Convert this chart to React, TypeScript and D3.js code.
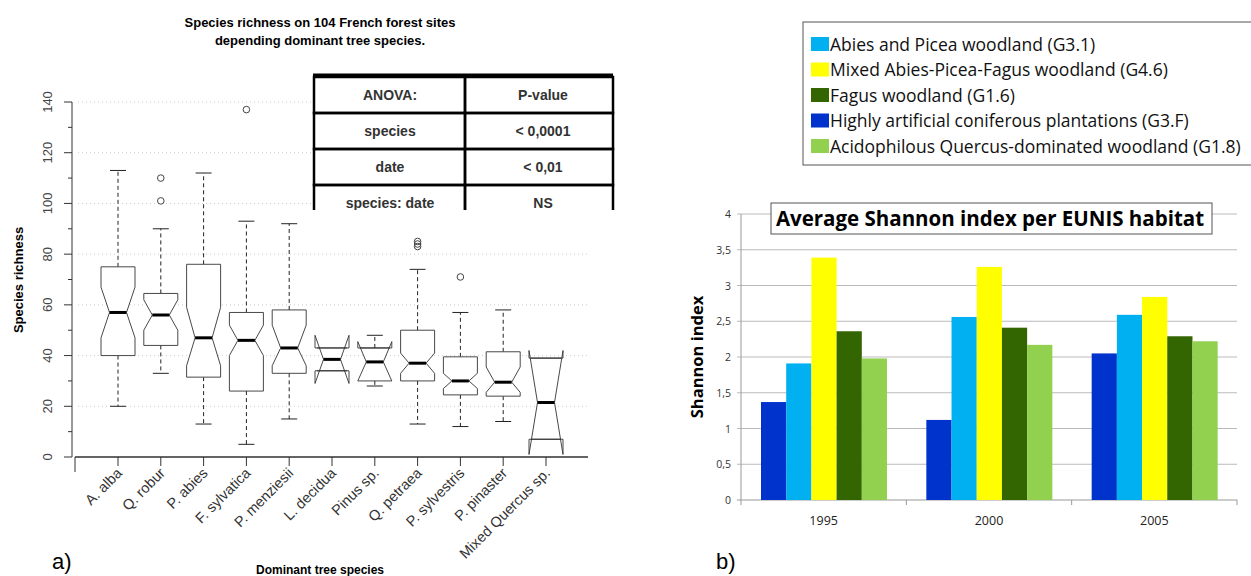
import React from 'react';
import * as d3 from 'd3';

// ---- panel a) data ----
const speciesNames = ['A. alba', 'Q. robur', 'P. abies', 'F. sylvatica', 'P. menziesii', 'L. decidua',
  'Pinus sp.', 'Q. petraea', 'P. sylvestris', 'P. pinaster', 'Mixed Quercus sp.'];
// [lowWhisker, q1, median, q3, highWhisker, notchLow, notchHigh]
const boxStats: number[][] = [
  [20, 40, 57, 75, 113, 47, 67],
  [33, 44, 56, 64.5, 90, 50, 62],
  [13, 31.5, 47, 76, 112, 36, 59],
  [5, 26, 46, 57, 93, 40, 52],
  [15, 33, 43, 58, 92, 36, 52],
  [34, 34, 38.5, 43, 43, 29, 48],
  [28, 30, 37.5, 43, 48, 30, 45.5],
  [13, 30, 37, 50, 74, 33, 41],
  [12, 24.5, 30, 39.5, 57, 27, 33],
  [14, 24, 29.5, 41.5, 58, 25.5, 35.5],
  [7, 7, 21.5, 39, 39, 1, 42],
];
const outliers: number[][] = [[], [101, 110], [], [137], [], [], [], [83, 84, 85], [71], [], []];
const richTicks = [0, 20, 40, 60, 80, 100, 120, 140];
const anovaRows = [['ANOVA:', 'P-value'], ['species', '< 0,0001'], ['date', '< 0,01'], ['species: date', 'NS']];

// ---- panel b) data ----
const years = ['1995', '2000', '2005'];
const habitats = ['G3.F', 'G3.1', 'G4.6', 'G1.6', 'G1.8'];
const habitatColors = ['#0033cc', '#00b0f0', '#ffff00', '#336600', '#92d050'];
const shannon: number[][] = [
  [1.37, 1.91, 3.39, 2.36, 1.98],
  [1.12, 2.56, 3.26, 2.41, 2.17],
  [2.05, 2.59, 2.84, 2.29, 2.22],
];
const legendLabels = ['Abies and Picea woodland (G3.1)', 'Mixed Abies-Picea-Fagus woodland (G4.6)',
  'Fagus woodland (G1.6)', 'Highly artificial coniferous plantations (G3.F)',
  'Acidophilous Quercus-dominated woodland (G1.8)'];
const legendColors = ['#00b0f0', '#ffff00', '#336600', '#0033cc', '#92d050'];
const shannonTicks = [0, 0.5, 1, 1.5, 2, 2.5, 3, 3.5, 4];

const arial = 'Liberation Sans, Arial, sans-serif';
const calibri = 'Open Sans, sans-serif';

const App: React.FC = () => {
  // panel a scales
  const xA = d3.scalePoint<string>().domain(speciesNames).range([118, 546]);
  const yA = d3.scaleLinear().domain([0, 140]).range([457, 102]);
  const hw = 17, nw = 8.5;

  // panel b scales
  const xB = d3.scaleBand<string>().domain(years).range([741, 1237]);
  const inner = d3.scaleBand<string>().domain(habitats).range([20, 146]);
  const yB = d3.scaleLinear().domain([0, 4]).range([500, 214]);

  return (
    <svg width={1251} height={576} style={{ position: 'absolute', left: 0, top: 0, background: '#fff' }}>
      {/* ---- panel a ---- */}
      <text x={320} y={27} textAnchor="middle" fontFamily={arial} fontWeight="bold" fontSize={13}>Species richness on 104 French forest sites</text>
      <text x={320} y={45} textAnchor="middle" fontFamily={arial} fontWeight="bold" fontSize={13}>depending dominant tree species.</text>
      {richTicks.map(t => (
        <g key={t}>
          <line x1={78} x2={588} y1={yA(t)} y2={yA(t)} stroke="#ccc" strokeDasharray="1,3" />
          <line x1={64} x2={72} y1={yA(t)} y2={yA(t)} stroke="#333" />
          <text transform={`translate(52,${yA(t)}) rotate(-90)`} textAnchor="middle" fontFamily={arial} fontSize={13} fill="#444">{t}</text>
        </g>
      ))}
      {d3.range(10, 140, 20).map(t => (
        <line key={t} x1={68} x2={72} y1={yA(t)} y2={yA(t)} stroke="#333" />
      ))}
      <line x1={72} x2={72} y1={yA(0)} y2={yA(140)} stroke="#333" />
      <text transform="translate(23,280) rotate(-90)" textAnchor="middle" fontFamily={arial} fontWeight="bold" fontSize={13}>Species richness</text>
      <line x1={75} x2={588} y1={457} y2={457} stroke="#333" strokeWidth={1.5} />
      <line x1={75} x2={75} y1={457} y2={472} stroke="#333" />
      {speciesNames.map((s, i) => {
        const cx = xA(s)!;
        const [lo, q1, med, q3, hi, nl, nh] = boxStats[i];
        const pts = [
          [cx - hw, yA(q3)], [cx - hw, yA(nh)], [cx - nw, yA(med)], [cx - hw, yA(nl)], [cx - hw, yA(q1)],
          [cx + hw, yA(q1)], [cx + hw, yA(nl)], [cx + nw, yA(med)], [cx + hw, yA(nh)], [cx + hw, yA(q3)],
        ];
        return (
          <g key={s}>
            <line x1={cx} x2={cx} y1={457} y2={466} stroke="#333" />
            {hi > q3 && <line x1={cx} x2={cx} y1={yA(q3)} y2={yA(hi)} stroke="#222" strokeDasharray="4,3" />}
            {lo < q1 && <line x1={cx} x2={cx} y1={yA(q1)} y2={yA(lo)} stroke="#222" strokeDasharray="4,3" />}
            {hi > q3 && <line x1={cx - 8} x2={cx + 8} y1={yA(hi)} y2={yA(hi)} stroke="#222" />}
            {lo < q1 && <line x1={cx - 8} x2={cx + 8} y1={yA(lo)} y2={yA(lo)} stroke="#222" />}
            <path d={d3.line()(pts as [number, number][]) + 'Z'} fill="#fff" stroke="#333" strokeWidth={0.9} />
            {nl < q1 && <line x1={cx - hw + 2} x2={cx + hw - 2} y1={yA(q1)} y2={yA(q1)} stroke="#333" />}
            {nh > q3 && <line x1={cx - hw + 2} x2={cx + hw - 2} y1={yA(q3)} y2={yA(q3)} stroke="#333" />}
            <line x1={cx - nw} x2={cx + nw} y1={yA(med)} y2={yA(med)} stroke="#000" strokeWidth={3} />
            {outliers[i].map((o, j) => (
              <circle key={j} cx={cx} cy={yA(o)} r={3.3} fill="none" stroke="#444" />
            ))}
            <text transform={`translate(${cx + 5},${474}) rotate(-45)`} textAnchor="end" fontFamily={arial} fontSize={14.5} fill="#333">{s}</text>
          </g>
        );
      })}
      <text x={320} y={574} textAnchor="middle" fontFamily={arial} fontWeight="bold" fontSize={12}>Dominant tree species</text>
      <text x={52} y={569} fontFamily={arial} fontSize={22}>a)</text>
      {/* anova table */}
      <rect x={313} y={75} width={300} height={135} fill="#fff" />
      <clipPath id="tbl"><rect x={311} y={73} width={304} height={137} /></clipPath>
      <g clipPath="url(#tbl)">
        {anovaRows.map((r, i) => {
          const y0 = 77 + i * 36;
          return (
            <g key={i}>
              <rect x={314} y={y0} width={151} height={36} fill="none" stroke="#000" strokeWidth={2.5} />
              <rect x={465} y={y0} width={148} height={36} fill="none" stroke="#000" strokeWidth={2.5} />
              <text x={390} y={y0 + 23} textAnchor="middle" fontFamily={arial} fontWeight="bold" fontSize={14} fill="#333">{r[0]}</text>
              <text x={543} y={y0 + 23} textAnchor="middle" fontFamily={arial} fontWeight="bold" fontSize={14} fill="#333">{r[1]}</text>
            </g>
          );
        })}
      </g>
      <line x1={313} x2={613} y1={75} y2={75} stroke="#000" strokeWidth={3} />

      {/* ---- panel b ---- */}
      <rect x={803} y={22} width={460} height={143} fill="#fff" stroke="#555" />
      {legendLabels.map((l, i) => (
        <g key={l}>
          <rect x={811} y={37 + i * 25.5} width={18} height={14} fill={legendColors[i]} />
          <text x={830} y={50.5 + i * 25.5} fontFamily={calibri} fontSize={17.5} fill="#111">{l}</text>
        </g>
      ))}
      {shannonTicks.map(t => (
        <g key={t}>
          <line x1={737} x2={1237} y1={yB(t)} y2={yB(t)} stroke={t === 0 ? '#999' : '#bbb'} />
          <text x={731} y={yB(t) + 4} textAnchor="end" fontFamily={calibri} fontSize={10.5} fill="#333">{String(t).replace('.', ',')}</text>
        </g>
      ))}
      <line x1={741} x2={741} y1={yB(0)} y2={yB(4)} stroke="#999" />
      {[...years.map(y => xB(y)!), 1237].map((x, i) => (
        <line key={i} x1={x} x2={x} y1={500} y2={505} stroke="#999" />
      ))}
      {years.map((yr, gi) => (
        <g key={yr}>
          {habitats.map((h, hi) => (
            <rect key={h} x={xB(yr)! + inner(h)!} y={yB(shannon[gi][hi])} width={inner.bandwidth()}
              height={yB(0) - yB(shannon[gi][hi])} fill={habitatColors[hi]} />
          ))}
          <text x={xB(yr)! + xB.bandwidth() / 2} y={525} textAnchor="middle" fontFamily={calibri} fontSize={12.5} fill="#222">{yr}</text>
        </g>
      ))}
      <rect x={771} y={203} width={441} height={31} fill="#fff" stroke="#555" />
      <text x={990} y={226} textAnchor="middle" fontFamily={calibri} fontWeight="bold" fontSize={20.5} fill="#000">Average Shannon index per EUNIS habitat</text>
      <text transform="translate(703,357) rotate(-90)" textAnchor="middle" fontFamily={calibri} fontWeight="bold" fontSize={16.5}>Shannon index</text>
      <text x={716} y={569} fontFamily={arial} fontSize={22}>b)</text>
    </svg>
  );
};

export default App;
